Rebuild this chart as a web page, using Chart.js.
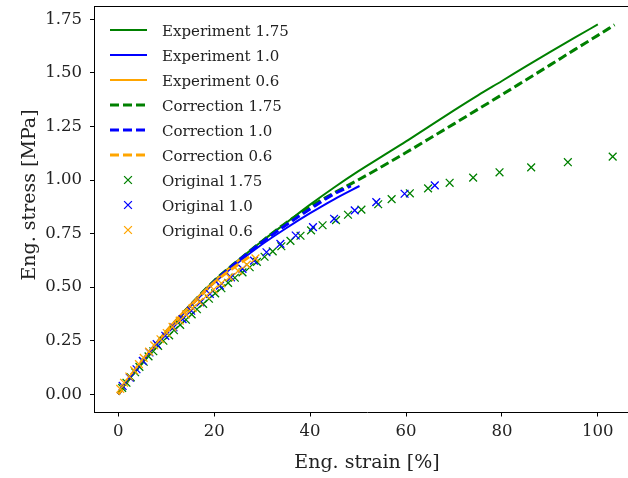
<!DOCTYPE html>
<html lang="en">
<head>
<meta charset="UTF-8" />
<title>Stress vs strain</title>
<script src="https://cdn.jsdelivr.net/npm/chart.js"></script>
<style>
  html, body { margin: 0; padding: 0; background: #fff; overflow: hidden; }
  #wrap { position: relative; width: 628px; height: 478px; overflow: hidden; }
  #chart { position: absolute; left: 0; top: 0; display: block; width: 650px; height: 478px; }
</style>
</head>
<body>
<div id="wrap"><canvas id="chart" width="650" height="478"></canvas></div>
<script>
// tick labels
const xTicks = [0, 20, 40, 60, 80, 100];
const yTicks = [0, 0.25, 0.5, 0.75, 1.0, 1.25, 1.5, 1.75];

// experiment curves (solid)
const exp175Strain = [0, 2, 5, 10, 15, 20, 25, 30, 35, 40, 45, 50, 55, 60, 65, 70, 75, 80, 85, 90, 95, 100];
const exp175Stress = [0, 0.065, 0.155, 0.29, 0.415, 0.53, 0.625, 0.715, 0.80, 0.885, 0.965, 1.040, 1.110, 1.180, 1.253, 1.325, 1.395, 1.462, 1.530, 1.597, 1.662, 1.726];
const exp10Strain = [0, 2, 5, 10, 15, 20, 25, 30, 35, 40, 45, 50.3];
const exp10Stress = [0, 0.065, 0.155, 0.29, 0.41, 0.52, 0.615, 0.70, 0.775, 0.845, 0.91, 0.972];
const exp06Strain = [0, 2, 5, 10, 15, 20, 26];
const exp06Stress = [0, 0.066, 0.157, 0.297, 0.418, 0.528, 0.642];

// corrected curves (dashed)
const corr175Strain = [0, 2, 5, 10, 15, 20, 25, 30, 35, 40, 45, 50, 55, 60, 65, 70, 75, 80, 85, 90, 95, 100, 103.5];
const corr175Stress = [0, 0.065, 0.155, 0.29, 0.415, 0.53, 0.625, 0.715, 0.80, 0.875, 0.94, 1.0, 1.063, 1.128, 1.195, 1.262, 1.330, 1.398, 1.467, 1.536, 1.606, 1.675, 1.724];
const corr10Strain = [0, 2, 5, 10, 15, 20, 25, 30, 35, 40, 45, 48.5];
const corr10Stress = [0, 0.065, 0.155, 0.29, 0.412, 0.525, 0.622, 0.71, 0.79, 0.865, 0.935, 0.972];
const corr06Strain = [0, 2, 5, 10, 15, 20, 27.5];
const corr06Stress = [0, 0.065, 0.152, 0.292, 0.412, 0.522, 0.645];

// original data points (x markers)
const orig175Strain = [0.8, 1.7, 2.6, 3.5, 4.4, 5.3, 6.3, 7.3, 8.3, 9.4, 10.6, 11.6, 12.9, 14.1, 15.3, 16.4, 17.7, 18.9, 20.2, 21.5, 22.9, 24.3, 25.9, 27.4, 28.9, 30.5, 32.2, 34.0, 35.9, 38.0, 40.2, 42.6, 45.4, 47.9, 50.7, 54.2, 57.0, 60.8, 64.6, 69.1, 74.0, 79.5, 86.1, 93.75, 103.1];
const orig175Stress = [0.030, 0.054, 0.079, 0.103, 0.128, 0.152, 0.177, 0.201, 0.226, 0.250, 0.275, 0.299, 0.324, 0.348, 0.373, 0.397, 0.422, 0.446, 0.471, 0.495, 0.520, 0.544, 0.569, 0.593, 0.618, 0.642, 0.667, 0.691, 0.716, 0.740, 0.765, 0.789, 0.813, 0.838, 0.862, 0.887, 0.911, 0.938, 0.961, 0.987, 1.011, 1.036, 1.059, 1.083, 1.109];
const orig10Strain = [0.9, 2.4, 3.8, 5.1, 6.5, 8.0, 9.8, 11.5, 13.4, 15.2, 17.1, 19.1, 21.2, 23.5, 25.9, 28.3, 30.9, 33.8, 37.0, 40.6, 45.0, 49.3, 53.8, 59.7, 66.0];
const orig10Stress = [0.039, 0.078, 0.117, 0.156, 0.195, 0.234, 0.273, 0.312, 0.351, 0.390, 0.429, 0.468, 0.507, 0.546, 0.585, 0.624, 0.663, 0.702, 0.741, 0.780, 0.819, 0.858, 0.897, 0.936, 0.975];
const orig06Strain = [0.4, 1.2, 2.3, 3.3, 4.3, 5.3, 6.4, 7.5, 8.8, 10.1, 11.3, 12.8, 14.1, 15.5, 16.9, 18.4, 19.9, 21.5, 23.2, 25.0, 26.8, 28.6];
const orig06Stress = [0.025, 0.054, 0.083, 0.112, 0.141, 0.170, 0.199, 0.228, 0.257, 0.286, 0.315, 0.344, 0.373, 0.402, 0.431, 0.460, 0.489, 0.518, 0.547, 0.576, 0.605, 0.634];

const GREEN = '#008000', BLUE = '#0000ff', ORANGE = '#ffa500';
const FONT = '"DejaVu Serif", serif';

function pts(xs, ys) {
  return xs.map((x, i) => ({ x: x, y: ys[i] }));
}

function lineSet(label, xs, ys, color, dashed, order) {
  return {
    label: label,
    data: pts(xs, ys),
    showLine: true,
    borderColor: color,
    borderWidth: dashed ? 3 : 2,
    borderDash: dashed ? [9, 4] : [],
    pointRadius: 0,
    pointHoverRadius: 0,
    cubicInterpolationMode: 'monotone',
    order: order
  };
}

function markerSet(label, xs, ys, color, order) {
  return {
    label: label,
    data: pts(xs, ys),
    showLine: false,
    pointStyle: 'crossRot',
    pointRadius: 5.5,
    pointBorderWidth: 1.3,
    borderColor: color,
    backgroundColor: color,
    order: order
  };
}

// legend inside the axes, top spine, axis labels
const extras = {
  id: 'extras',
  afterDraw(chart) {
    const ctx = chart.ctx;
    const a = chart.chartArea;
    ctx.save();
    // the plot box runs past the right edge of the page, so only the top spine shows
    ctx.strokeStyle = '#000';
    ctx.lineWidth = 1;
    ctx.beginPath();
    ctx.moveTo(a.left, a.top + 0.5);
    ctx.lineTo(chart.width, a.top + 0.5);
    ctx.stroke();

    ctx.font = '15px ' + FONT;
    ctx.textBaseline = 'alphabetic';
    ctx.textAlign = 'left';
    chart.data.datasets.forEach((ds, i) => {
      const y = 30 + i * 25;
      ctx.strokeStyle = ds.borderColor;
      if (ds.showLine) {
        ctx.lineWidth = ds.borderWidth;
        ctx.setLineDash(ds.borderDash);
        ctx.beginPath();
        ctx.moveTo(110, y);
        ctx.lineTo(147, y);
        ctx.stroke();
        ctx.setLineDash([]);
      } else {
        ctx.lineWidth = ds.pointBorderWidth;
        Chart.helpers.drawPoint(ctx, { pointStyle: 'crossRot', radius: ds.pointRadius, rotation: 0, borderWidth: ds.pointBorderWidth }, 128, y);
      }
      ctx.fillStyle = '#222';
      ctx.fillText(ds.label, 162, y + 5.5);
    });

    ctx.font = '19px ' + FONT;
    ctx.fillStyle = '#222';
    ctx.textAlign = 'center';
    ctx.fillText('Eng. strain [%]', 367, 468);
    ctx.translate(35, 195);
    ctx.rotate(-Math.PI / 2);
    ctx.fillText('Eng. stress [MPa]', 0, 0);
    ctx.restore();
  }
};

new Chart(document.getElementById('chart'), {
  type: 'scatter',
  data: {
    datasets: [
      lineSet('Experiment 1.75', exp175Strain, exp175Stress, GREEN, false, 9),
      lineSet('Experiment 1.0', exp10Strain, exp10Stress, BLUE, false, 8),
      lineSet('Experiment 0.6', exp06Strain, exp06Stress, ORANGE, false, 7),
      lineSet('Correction 1.75', corr175Strain, corr175Stress, GREEN, true, 6),
      lineSet('Correction 1.0', corr10Strain, corr10Stress, BLUE, true, 5),
      lineSet('Correction 0.6', corr06Strain, corr06Stress, ORANGE, true, 4),
      markerSet('Original 1.75', orig175Strain, orig175Stress, GREEN, 3),
      markerSet('Original 1.0', orig10Strain, orig10Stress, BLUE, 2),
      markerSet('Original 0.6', orig06Strain, orig06Stress, ORANGE, 1)
    ]
  },
  options: {
    responsive: false,
    animation: false,
    // canvas is 650 wide inside a 628 px box: the plot area ends at 640.5, off the page
    layout: { autoPadding: false, padding: { top: 6, right: 9.5, left: 0, bottom: 0 } },
    plugins: {
      legend: { display: false },
      tooltip: { enabled: false }
    },
    scales: {
      x: {
        type: 'linear',
        min: -5.07,
        max: 108.9,
        afterBuildTicks: (s) => { s.ticks = xTicks.map(v => ({ value: v })); },
        afterFit: (s) => { s.height = 65.5; s.paddingLeft = 0; s.paddingRight = 0; },
        ticks: {
          color: '#222',
          font: { family: FONT, size: 16.5 },
          padding: 5,
          maxRotation: 0,
          callback: (v) => String(v)
        },
        grid: { display: true, drawOnChartArea: false, drawTicks: true, tickLength: 4, color: '#000' },
        border: { display: true, color: '#000', width: 1 }
      },
      y: {
        type: 'linear',
        min: -0.0849,
        max: 1.812,
        afterBuildTicks: (s) => { s.ticks = yTicks.map(v => ({ value: v })); },
        afterFit: (s) => { s.width = 94; s.paddingTop = 0; s.paddingBottom = 0; },
        ticks: {
          color: '#222',
          font: { family: FONT, size: 16.5 },
          padding: 8,
          callback: (v) => v.toFixed(2)
        },
        grid: { display: true, drawOnChartArea: false, drawTicks: true, tickLength: 4, color: '#000' },
        border: { display: true, color: '#000', width: 1 }
      }
    }
  },
  plugins: [extras]
});
</script>
</body>
</html>
